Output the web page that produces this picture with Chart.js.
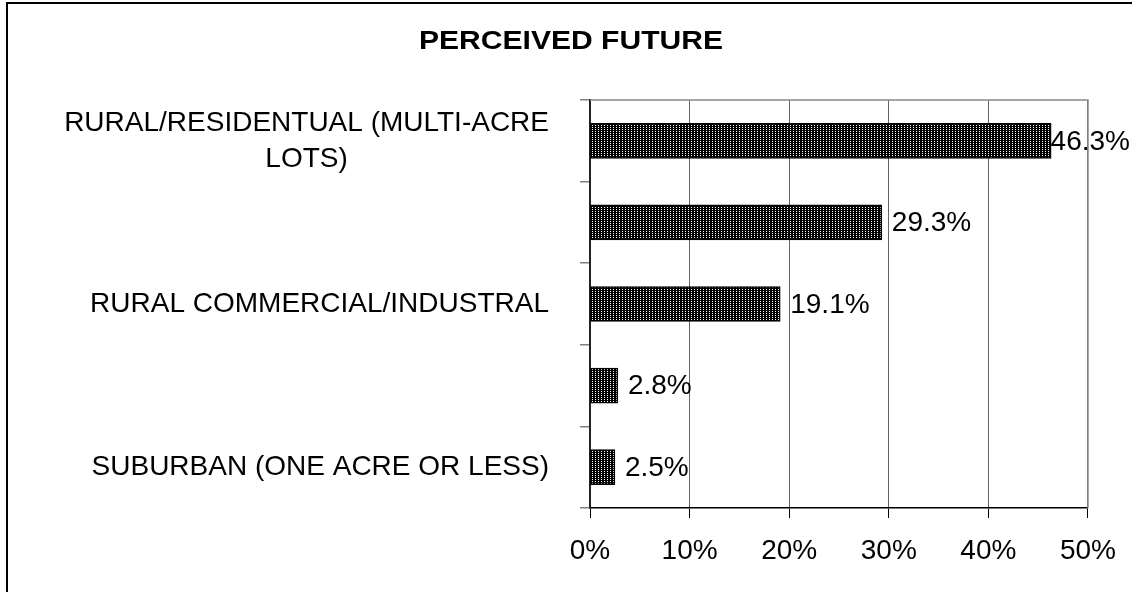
<!DOCTYPE html>
<html>
<head>
<meta charset="utf-8">
<script src="https://cdn.jsdelivr.net/npm/chart.js@4/dist/chart.umd.min.js"></script>
<style>
  html, body { margin: 0; padding: 0; background: #fff; }
  #c { display: block; }
</style>
</head>
<body>
<canvas id="c" width="1132" height="592"></canvas>
<script>
// ---- data ----
const chartTitle = "PERCEIVED FUTURE";
const categories = [
  ["RURAL/RESIDENTUAL (MULTI-ACRE", "LOTS)"],
  "",
  "RURAL COMMERCIAL/INDUSTRAL",
  "",
  "SUBURBAN (ONE ACRE OR LESS)"
];
const values = [46.3, 29.3, 19.1, 2.8, 2.5];
const xTickMin = 0;
const xTickMax = 50;
const xTickStep = 10;

const FONT = "'Liberation Sans', Arial, Helvetica, sans-serif";

// dotted fill pattern
function makePattern() {
  const p = document.createElement('canvas');
  p.width = 3; p.height = 2;
  const g = p.getContext('2d');
  g.fillStyle = '#000';
  g.fillRect(0, 0, 3, 2);
  g.fillStyle = '#fff';
  g.fillRect(1, 1, 1, 1);
  return g.createPattern(p, 'repeat');
}
const ctxMain = document.getElementById('c').getContext('2d');
const pattern = makePattern();

const framePlugin = {
  id: 'frame',
  afterDraw(chart) {
    const ctx = chart.ctx;
    const a = chart.chartArea;
    ctx.save();
    // plot area top/right border
    ctx.strokeStyle = '#888';
    ctx.lineWidth = 1.5;
    ctx.beginPath();
    ctx.moveTo(a.left, a.top);
    ctx.lineTo(a.right, a.top);
    ctx.lineTo(a.right, a.bottom);
    ctx.stroke();
    // outer frame (left & top)
    ctx.strokeStyle = '#000';
    ctx.lineWidth = 2;
    ctx.beginPath();
    ctx.moveTo(7, chart.height);
    ctx.lineTo(7, 3);
    ctx.lineTo(chart.width, 3);
    ctx.stroke();
    // title
    ctx.fillStyle = '#000';
    ctx.font = "bold 25px " + FONT;
    ctx.textAlign = 'center';
    ctx.textBaseline = 'middle';
    const w = ctx.measureText(chartTitle).width;
    const targetW = 304;
    ctx.translate(571, 42);
    ctx.scale(targetW / w, 1);
    ctx.fillText(chartTitle, 0, 0);
    ctx.restore();
  }
};

const catLabelPlugin = {
  id: 'catLabels',
  afterDraw(chart) {
    const ctx = chart.ctx;
    const ys = chart.scales.y;
    ctx.save();
    ctx.fillStyle = '#000';
    ctx.font = "28px " + FONT;
    ctx.textBaseline = 'middle';
    ctx.textAlign = 'center';
    const rightEdge = 549;
    const lineH = 36;
    categories.forEach((lab, i) => {
      const lines = Array.isArray(lab) ? lab : [lab];
      if (!lines.join('')) return;
      const bw = Math.max(...lines.map(l => ctx.measureText(l).width));
      const cx = rightEdge - bw / 2;
      const cy = ys.getPixelForValue(i);
      const y0 = cy - (lines.length - 1) * lineH / 2;
      lines.forEach((l, k) => ctx.fillText(l, cx, y0 + k * lineH));
    });
    ctx.restore();
  }
};

const valueLabelPlugin = {
  id: 'valueLabels',
  afterDatasetsDraw(chart) {
    const ctx = chart.ctx;
    const meta = chart.getDatasetMeta(0);
    ctx.save();
    ctx.fillStyle = '#000';
    ctx.font = "28px " + FONT;
    ctx.textBaseline = 'middle';
    ctx.textAlign = 'left';
    meta.data.forEach((bar, i) => {
      const t = values[i].toFixed(1) + '%';
      const w = ctx.measureText(t).width;
      const x = Math.min(bar.x + 10, chart.width - 2 - w);
      ctx.fillText(t, x, bar.y + 1);
    });
    ctx.restore();
  }
};

new Chart(ctxMain, {
  type: 'bar',
  data: {
    labels: categories,
    datasets: [{
      data: values,
      backgroundColor: pattern,
      borderColor: '#000',
      borderWidth: 1.5,
      borderSkipped: false,
      barThickness: 35
    }]
  },
  options: {
    indexAxis: 'y',
    responsive: false,
    animation: false,
    devicePixelRatio: 1,
    layout: { padding: { top: 100, right: 42, left: 0, bottom: 0 } },
    plugins: {
      legend: { display: false },
      tooltip: { enabled: false },
      title: { display: false }
    },
    scales: {
      x: {
        min: xTickMin,
        max: xTickMax,
        ticks: {
          stepSize: xTickStep,
          callback: v => v + '%',
          font: { family: FONT, size: 28 },
          color: '#000',
          padding: 16,
          maxRotation: 0
        },
        grid: {
          color: '#666',
          lineWidth: 1,
          drawTicks: true,
          tickLength: 10,
          tickColor: '#000'
        },
        border: { color: '#000', width: 1.5 },
        afterFit(s) { s.height = 84; }
      },
      y: {
        ticks: { display: false },
        grid: {
          offset: true,
          drawOnChartArea: false,
          drawTicks: true,
          tickLength: 10,
          color: '#808080',
          lineWidth: 1.5
        },
        border: { color: '#222', width: 2 },
        afterFit(s) { s.width = 590; }
      }
    }
  },
  plugins: [framePlugin, catLabelPlugin, valueLabelPlugin]
});
</script>
</body>
</html>
